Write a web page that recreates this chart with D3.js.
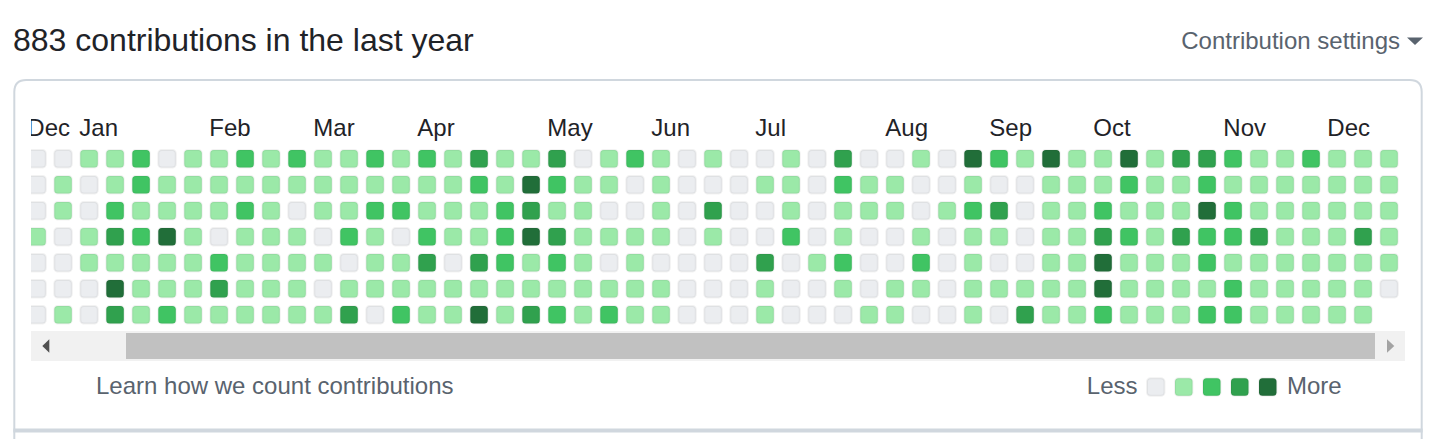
<!DOCTYPE html>
<html>
<head>
<meta charset="utf-8">
<script src="https://cdn.jsdelivr.net/npm/d3@7"></script>
<style>
  html, body { margin: 0; padding: 0; background: #ffffff; }
  svg { display: block; }
  text { font-family: "Liberation Sans", Arial, Helvetica, sans-serif; }
</style>
</head>
<body>
<svg id="chart" width="1445" height="439"></svg>
<script>
// ---- Data ----
const titleText = "883 contributions in the last year";
const settingsText = "Contribution settings";
const footerText = "Learn how we count contributions";
const monthLabels = ["Dec", "Jan", "Feb", "Mar", "Apr", "May", "Jun", "Jul", "Aug", "Sep", "Oct", "Nov", "Dec"];
const monthWeekIndex = [0, 2, 7, 11, 15, 20, 24, 28, 33, 37, 41, 46, 50];
const levelNames = [0, 1, 2, 3, 4];
const levelColors = ["#ebedf0", "#9be9a8", "#40c463", "#30a14e", "#216e39"];

// contribution level per weekday row (Sun..Sat), one value per week column
const row0 = [0,0,1,1,2,0,1,1,2,1,2,1,1, 2,1,2,1,3,1,1,3,0,1,2,1,0,1, 0,0,1,0,3,0,0,1,0,4,2,1,4, 1,1,4,1,3,3,2,1,1,2,1,1,1];
const row1 = [0,1,0,1,2,1,1,1,1,1,1,1,1, 1,1,1,1,2,1,4,2,1,1,0,1,0,0, 0,1,1,0,2,1,1,0,0,1,0,0,1, 1,1,2,1,1,2,1,1,1,1,1,1,1];
const row2 = [0,1,0,2,1,1,1,1,2,1,0,1,1, 2,2,1,1,1,2,3,1,1,0,0,1,0,3, 0,0,1,0,1,1,1,0,1,2,3,0,1, 1,2,1,1,1,4,2,1,1,1,1,1,1];
const row3 = [1,0,1,3,2,4,1,0,1,1,1,0,2, 1,0,2,1,1,2,4,3,1,1,1,1,0,1, 0,0,2,0,1,0,0,1,0,1,1,0,1, 1,3,2,1,3,2,2,3,1,1,1,3,1];
const row4 = [0,0,1,1,1,1,1,2,1,1,1,1,0, 1,1,3,0,3,2,1,2,1,0,1,0,0,0, 0,3,0,1,2,0,0,2,0,1,0,0,1, 1,4,1,1,1,2,1,1,1,1,1,1,1];
const row5 = [0,0,0,4,1,1,1,3,1,1,1,0,1, 1,1,1,1,1,1,1,1,1,1,1,1,0,0, 0,1,0,0,1,0,1,1,0,1,1,1,1, 1,4,1,1,1,1,2,1,1,1,1,1,0];
const row6 = [0,1,0,3,1,2,1,1,1,1,1,1,3, 0,2,1,1,4,1,3,2,1,2,1,1,0,0, 0,1,0,0,0,1,1,0,0,1,0,3,1, 1,2,1,1,1,2,2,1,1,1,1,1];
const dayRows = [row0, row1, row2, row3, row4, row5, row6];

// ---- Drawing ----
const svg = d3.select("#chart");
const borderColor = "#d0d7de";
const mutedText = "#59636e";
const mainText = "#1f2328";

const cells = [];
dayRows.forEach((r, ri) => r.forEach((lv, wi) => cells.push({ week: wi, day: ri, level: lv })));

const nWeeks = d3.max(dayRows, r => r.length);
const x = d3.scaleLinear().domain([0, nWeeks - 1]).range([27.3, 27.3 + 26 * (nWeeks - 1)]);
const y = d3.scaleLinear().domain([0, 6]).range([149, 149 + 26 * 6]);
const color = d3.scaleOrdinal().domain(levelNames).range(levelColors);
const cellSize = 19.5;

// Title
svg.append("text").attr("x", 13).attr("y", 50.5)
  .attr("font-size", 32).attr("fill", mainText).text(titleText);

// Settings
svg.append("text").attr("x", 1400).attr("y", 49).attr("text-anchor", "end")
  .attr("font-size", 24).attr("fill", mutedText).text(settingsText);
svg.append("path").attr("d", "M1407,37.5 L1423,37.5 L1415,45 Z").attr("fill", mutedText);

// Outer box
svg.append("path")
  .attr("d", "M14.3,439 L14.3,92 Q14.3,80 26.3,80 L1409.7,80 Q1421.7,80 1421.7,92 L1421.7,439")
  .attr("fill", "none").attr("stroke", borderColor).attr("stroke-width", 2);
svg.append("rect").attr("x", 13.3).attr("y", 428.5).attr("width", 1409.4).attr("height", 4)
  .attr("fill", borderColor);

// Clip for scroll area
svg.append("defs").append("clipPath").attr("id", "scrollClip")
  .append("rect").attr("x", 31).attr("y", 95).attr("width", 1374).attr("height", 236);

const g = svg.append("g").attr("clip-path", "url(#scrollClip)");

// Month labels
g.selectAll("text.month").data(monthLabels).join("text")
  .attr("class", "month")
  .attr("x", (d, i) => x(monthWeekIndex[i]))
  .attr("y", 136)
  .attr("font-size", 24).attr("fill", mainText)
  .text(d => d);

// Cells
g.selectAll("rect.day").data(cells).join("rect")
  .attr("class", "day")
  .attr("x", d => x(d.week) + 1)
  .attr("y", d => y(d.day) + 1)
  .attr("width", cellSize - 2).attr("height", cellSize - 2)
  .attr("rx", 3.5).attr("ry", 3.5)
  .attr("fill", d => color(d.level))
  .attr("stroke", "rgba(27,31,35,0.06)").attr("stroke-width", 2);

// Scrollbar
svg.append("rect").attr("x", 31).attr("y", 331).attr("width", 1374).attr("height", 30).attr("fill", "#f1f1f1");
svg.append("rect").attr("x", 126).attr("y", 333).attr("width", 1249).attr("height", 26).attr("fill", "#c1c1c1");
svg.append("path").attr("d", "M42.3,346 L49.3,339.3 L49.3,352.7 Z").attr("fill", "#505050");
svg.append("path").attr("d", "M1394.3,346 L1387,339.3 L1387,352.7 Z").attr("fill", "#a3a3a3");

// Footer
svg.append("text").attr("x", 96).attr("y", 394)
  .attr("font-size", 24).attr("fill", mutedText).text(footerText);

svg.append("text").attr("x", 1137.5).attr("y", 394).attr("text-anchor", "end")
  .attr("font-size", 24).attr("fill", mutedText).text("Less");
svg.selectAll("rect.legend").data(levelNames).join("rect")
  .attr("class", "legend")
  .attr("x", (d, i) => 1146 + 28 * i + 1)
  .attr("y", 377.3 + 1)
  .attr("width", cellSize - 2).attr("height", cellSize - 2)
  .attr("rx", 3.5).attr("ry", 3.5)
  .attr("fill", d => color(d))
  .attr("stroke", "rgba(27,31,35,0.06)").attr("stroke-width", 2);
svg.append("text").attr("x", 1287).attr("y", 394)
  .attr("font-size", 24).attr("fill", mutedText).text("More");
</script>
</body>
</html>
